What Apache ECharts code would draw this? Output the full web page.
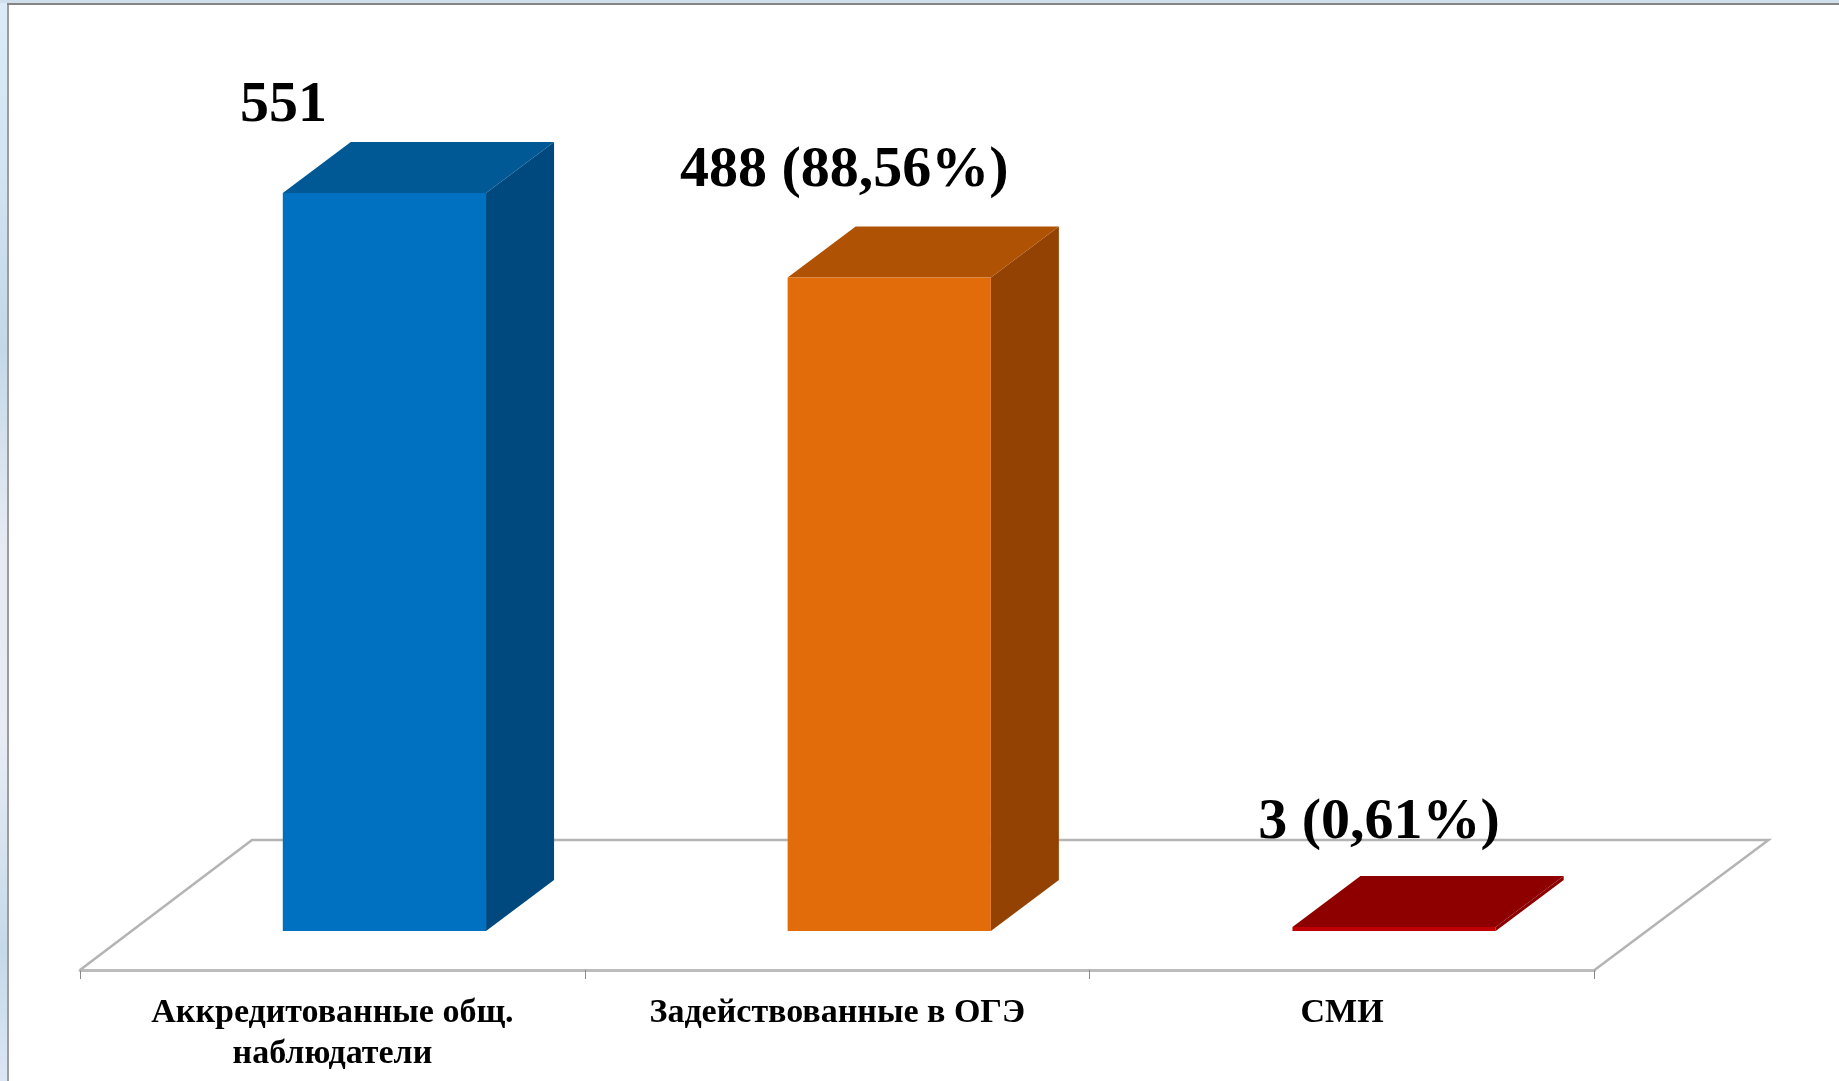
<!DOCTYPE html>
<html><head><meta charset="utf-8">
<style>html,body{margin:0;padding:0;background:#fff}#c{width:1839px;height:1081px}</style>
<script src="https://cdn.jsdelivr.net/npm/echarts@6/dist/echarts.min.js"></script>
</head><body><div id="c"></div>
<script>
const categories = ['Аккредитованные общ.\nнаблюдатели', 'Задействованные в ОГЭ', 'СМИ'];
const values = [551, 488, 3];
const valueLabels = ['551', '488 (88,56%)', '3 (0,61%)'];
const frontColors = ['#0070C0', '#E36C0A', '#C00000'];
const topColors = ['#005894', '#B05204', '#8E0000'];
const sideColors = ['#00497F', '#934203', '#8E0000'];
const labelShift = [[-101, -90], [-45, -109], [-15, -107]];

const DEPTH_X = 68, DEPTH_Y = 51, LIFT = 39, SHIFT = 52, FONT = 'bold 58px "Liberation Serif"';
const chart = echarts.init(document.getElementById('c'), null, {renderer: 'canvas'});

function renderBar(params, api) {
  const i = api.value(0);
  const base = api.coord([i, 0]);
  const tip = api.coord([i, api.value(1)]);
  const w = api.size([1, 0])[0] * 0.4026;
  const l = base[0] + SHIFT - w / 2, r = l + w, b = base[1] - LIFT, t = tip[1] - LIFT;
  const poly = (points, fill) => ({type: 'polygon', shape: {points}, style: {fill}});
  return {type: 'group', children: [
    poly([[r, b], [r + DEPTH_X, b - DEPTH_Y], [r + DEPTH_X, t - DEPTH_Y], [r, t]], sideColors[i]),
    poly([[l, t], [l + DEPTH_X, t - DEPTH_Y], [r + DEPTH_X, t - DEPTH_Y], [r, t]], topColors[i]),
    poly([[l, b], [r, b], [r, t], [l, t]], frontColors[i]),
    {type: 'text', style: {text: valueLabels[i], x: (l + r) / 2 + labelShift[i][0], y: t + labelShift[i][1] + 3,
      font: FONT, fill: '#000', align: 'center', verticalAlign: 'middle'}}
  ]};
}
function renderFloor(params, api) {
  const c = params.coordSys;
  const y0 = c.y + c.height, x0 = c.x, x1 = c.x + c.width;
  return {type: 'polyline', shape: {points: [[x0, y0], [x0 + 172, y0 - 130], [x1 + 174, y0 - 130], [x1, y0]]},
    style: {fill: 'none', stroke: '#b4b4b4', lineWidth: 2.5}};
}
chart.setOption({
  animation: false,
  backgroundColor: '#fff',
  graphic: [
    {type: 'rect', silent: true, z: -1, shape: {x: 0, y: 0, width: 7, height: 1081},
      style: {fill: {type: 'linear', x: 0, y: 0, x2: 0, y2: 1, colorStops: [
        {offset: 0, color: '#dcebf7'}, {offset: 0.15, color: '#d3e4f2'}, {offset: 0.32, color: '#c4d8e8'},
        {offset: 0.5, color: '#e6ebf3'}, {offset: 0.68, color: '#e8edf5'}, {offset: 0.88, color: '#c6d9e9'}, {offset: 1, color: '#dbe6f4'}]}}},
    {type: 'rect', silent: true, z: -1, shape: {x: 7, y: 3, width: 2, height: 1078}, style: {fill: '#9c9c9c'}},
    {type: 'rect', silent: true, z: -1, shape: {x: 0, y: 0, width: 1839, height: 3}, style: {fill: '#cfdfec'}},
    {type: 'rect', silent: true, z: -1, shape: {x: 7, y: 3, width: 1832, height: 2}, style: {fill: '#858585'}}
  ],
  grid: {left: 80, width: 1514.5, top: 166.4, height: 803.6, containLabel: false},
  xAxis: {type: 'category', data: categories, boundaryGap: true,
    axisLine: {show: true, lineStyle: {color: '#bcbcbc', width: 3}},
    axisTick: {show: true, length: 9, alignWithLabel: false, lineStyle: {color: '#8a8a8a', width: 1}},
    axisLabel: {interval: 0, margin: 23, fontFamily: 'Liberation Serif', fontWeight: 'bold', fontSize: 34, color: '#000', lineHeight: 41, verticalAlign: 'top'}},
  yAxis: {type: 'value', min: 0, max: 600, show: false, splitLine: {show: false}},
  series: [
    {type: 'custom', z: 1, silent: true, renderItem: renderFloor, data: [[0, 0]], encode: {x: 0, y: 1}},
    {type: 'custom', z: 2, silent: true, renderItem: renderBar, data: values.map((v, i) => [i, v]), encode: {x: 0, y: 1}}
  ]
});
</script></body></html>
